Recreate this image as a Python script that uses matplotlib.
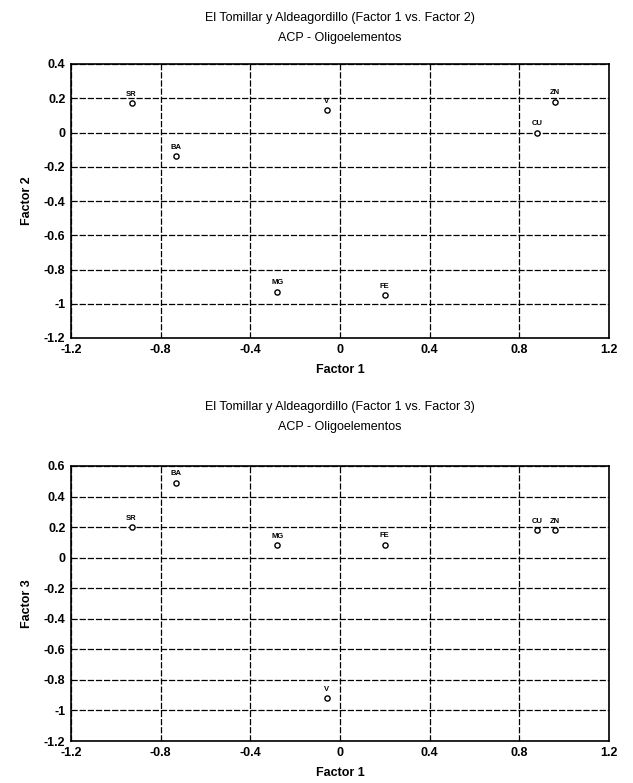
import matplotlib
matplotlib.use("Agg")
import matplotlib.pyplot as plt

plt.rcParams['font.family'] = ['Liberation Sans', 'DejaVu Sans']

elements = ["SR", "BA", "V", "MG", "FE", "CU", "ZN"]
factor1 = [-0.93, -0.73, -0.06, -0.28, 0.20, 0.88, 0.96]
factor2 = [0.17, -0.14, 0.13, -0.93, -0.95, 0.00, 0.18]
factor3 = [0.20, 0.49, -0.92, 0.08, 0.085, 0.18, 0.18]

x_ticks = [-1.2, -0.8, -0.4, 0, 0.4, 0.8, 1.2]
x_ticklabels = ["-1.2", "-0.8", "-0.4", "0", "0.4", "0.8", "1.2"]
y2_ticks = [0.4, 0.2, 0, -0.2, -0.4, -0.6, -0.8, -1, -1.2]
y2_ticklabels = ["0.4", "0.2", "0", "-0.2", "-0.4", "-0.6", "-0.8", "-1", "-1.2"]
y3_ticks = [0.6, 0.4, 0.2, 0, -0.2, -0.4, -0.6, -0.8, -1, -1.2]
y3_ticklabels = ["0.6", "0.4", "0.2", "0", "-0.2", "-0.4", "-0.6", "-0.8", "-1", "-1.2"]

title1 = "El Tomillar y Aldeagordillo (Factor 1 vs. Factor 2)"
title2 = "El Tomillar y Aldeagordillo (Factor 1 vs. Factor 3)"
subtitle = "ACP - Oligoelementos"

fig = plt.figure(figsize=(6.33, 7.83), dpi=100)
W, H = 633, 783

def make_ax(top_px, bot_px):
    left, right = 71, 609
    return fig.add_axes([left / W, 1 - bot_px / H, (right - left) / W, (bot_px - top_px) / H])

def style(ax, yticks, yticklabels, ylim, ylabel):
    ax.set_xlim(-1.2, 1.2)
    ax.set_ylim(*ylim)
    ax.set_xticks(x_ticks)
    ax.set_xticklabels(x_ticklabels, fontsize=9, fontweight='bold')
    ax.set_yticks(yticks)
    ax.set_yticklabels(yticklabels, fontsize=9, fontweight='bold')
    ax.tick_params(length=0, pad=4)
    ax.grid(True, color='black', linestyle=(0, (5, 1.5)), linewidth=0.9)
    for s in ax.spines.values():
        s.set_color('black')
        s.set_linewidth(1.2)
    ax.set_xlabel("Factor 1", fontsize=9, fontweight='bold', labelpad=6)
    ax.set_ylabel(ylabel, fontsize=9, fontweight='bold', labelpad=8)

def plot_points(ax, xs, ys):
    ax.scatter(xs, ys, s=14, facecolors='white', edgecolors='black', linewidths=1.0, zorder=3)
    for name, x, y in zip(elements, xs, ys):
        ax.annotate(name, (x, y), xytext=(0, 4), textcoords='offset points',
                    ha='center', va='bottom', fontsize=5.5, fontweight='bold', zorder=4)

ax1 = make_ax(64, 338)
style(ax1, y2_ticks, y2_ticklabels, (-1.2, 0.4), "Factor 2")
plot_points(ax1, factor1, factor2)

ax2 = make_ax(466, 741)
style(ax2, y3_ticks, y3_ticklabels, (-1.2, 0.6), "Factor 3")
plot_points(ax2, factor1, factor3)

fig.text(0.537, 1 - 18 / H, title1, ha='center', va='center', fontsize=9)
fig.text(0.537, 1 - 38 / H, subtitle, ha='center', va='center', fontsize=9)
fig.text(0.537, 1 - 407 / H, title2, ha='center', va='center', fontsize=9)
fig.text(0.537, 1 - 427 / H, subtitle, ha='center', va='center', fontsize=9)

fig.savefig("out.png", dpi=100, facecolor='white')
